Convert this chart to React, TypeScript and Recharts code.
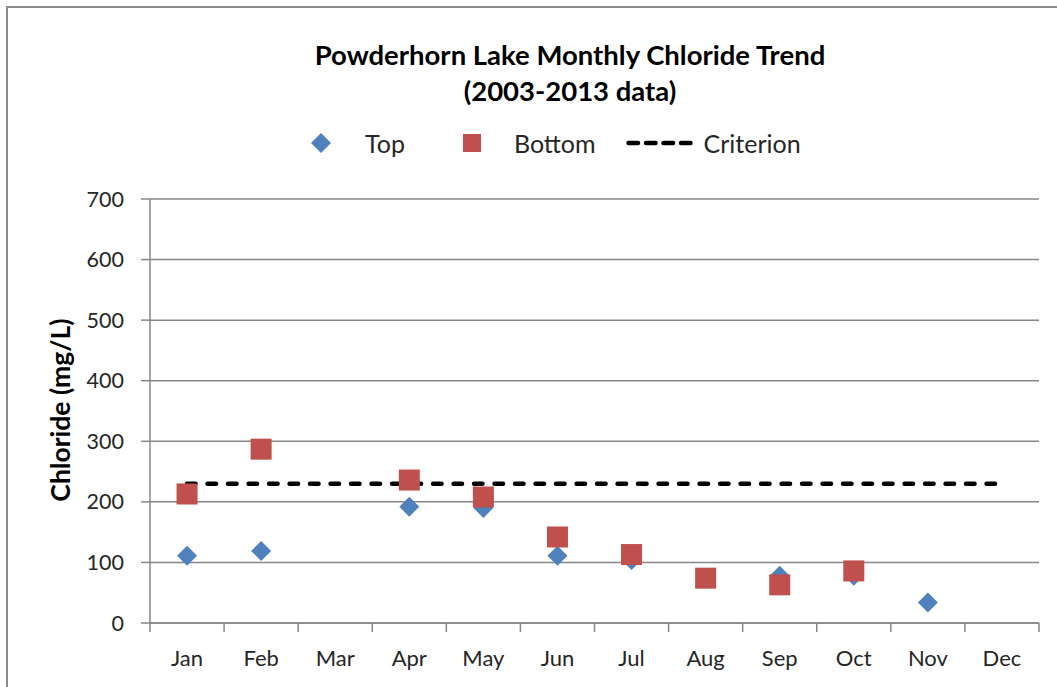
import React from 'react';
import { ComposedChart, Scatter, Line, XAxis, YAxis, CartesianGrid } from 'recharts';

const months = ['Jan', 'Feb', 'Mar', 'Apr', 'May', 'Jun', 'Jul', 'Aug', 'Sep', 'Oct', 'Nov', 'Dec'];
const topValues = [111, 119, null, 192, 190, 111, 104, null, 78, 78, 34, null];
const bottomValues = [213, 287, null, 236, 208, 142, 113, 74, 63, 86, null, null];
const criterionValues = [230, 230, 230, 230, 230, 230, 230, 230, 230, 230, 230, 230];
const yTicks = [0, 100, 200, 300, 400, 500, 600, 700];

const BLUE = '#4F81BD';
const RED = '#C0504D';
const GRID = '#878787';
const FONT = 'Lato, "Open Sans", sans-serif';

const data = months.map((m, i) => ({
  month: m,
  top: topValues[i],
  bottom: bottomValues[i],
  criterion: criterionValues[i],
}));

const DiamondShape = (props: any) => {
  const { cx, cy } = props;
  if (cx == null || cy == null || isNaN(cy)) return null;
  const r = 10;
  return <path d={`M${cx},${cy - r}L${cx + r},${cy}L${cx},${cy + r}L${cx - r},${cy}Z`} fill={BLUE} />;
};

const SquareShape = (props: any) => {
  const { cx, cy } = props;
  if (cx == null || cy == null || isNaN(cy)) return null;
  const h = 10.5;
  return <rect x={cx - h} y={cy - h} width={h * 2} height={h * 2} fill={RED} />;
};

// Excel style: tick marks sit between categories, labels in the middle
const MonthTick = (props: any) => {
  const { x, y, payload, index, visibleTicksCount } = props;
  const half = payload && payload.offset ? payload.offset : 37;
  const last = index === (visibleTicksCount || 12) - 1;
  return (
    <g>
      <line x1={x - half} x2={x - half} y1={y - 9} y2={y} stroke={GRID} strokeWidth={1.5} />
      {last && <line x1={x + half} x2={x + half} y1={y - 9} y2={y} stroke={GRID} strokeWidth={1.5} />}
      <text x={x} y={y + 34} textAnchor="middle" fill="#262626" fontSize={22} fontFamily={FONT}>
        {payload.value}
      </text>
    </g>
  );
};

const legendText: React.CSSProperties = { fontSize: 25, color: '#262626', fontFamily: FONT, lineHeight: '28px' };

export default function App() {
  return (
    <div style={{ position: 'absolute', left: 0, top: 0, width: 1057, height: 687, background: '#fff', overflow: 'hidden' }}>
      <div
        style={{
          position: 'absolute',
          left: 6,
          top: 6,
          width: 1100,
          height: 720,
          borderTop: '2px solid #8c8c8c',
          borderLeft: '2px solid #8c8c8c',
        }}
      />
      <div
        style={{
          position: 'absolute',
          left: 270,
          width: 600,
          top: 37,
          textAlign: 'center',
          fontFamily: FONT,
          fontWeight: 700,
          fontSize: 27.5,
          lineHeight: '36px',
          color: '#000',
        }}
      >
        <div>Powderhorn Lake Monthly Chloride Trend</div>
        <div>(2003-2013 data)</div>
      </div>

      <div style={{ position: 'absolute', left: 311, top: 129, height: 28, display: 'flex', alignItems: 'center' }}>
        <svg width={20} height={20}>
          <path d="M10,0L20,10L10,20L0,10Z" fill={BLUE} />
        </svg>
        <span style={{ ...legendText, marginLeft: 34 }}>Top</span>
        <svg width={18} height={18} style={{ marginLeft: 58 }}>
          <rect x={0} y={0} width={18} height={18} fill={RED} />
        </svg>
        <span style={{ ...legendText, marginLeft: 33 }}>Bottom</span>
        <svg width={72} height={10} style={{ marginLeft: 30 }}>
          <line x1={2.5} x2={70} y1={5} y2={5} stroke="#000" strokeWidth={4.5} strokeDasharray="9.5 8" strokeLinecap="round" />
        </svg>
        <span style={{ ...legendText, marginLeft: 6 }}>Criterion</span>
      </div>

      <div
        style={{
          position: 'absolute',
          left: 60,
          top: 410,
          transform: 'translate(-50%, -50%) rotate(-90deg)',
          whiteSpace: 'nowrap',
          fontFamily: FONT,
          fontWeight: 700,
          fontSize: 26.5,
          color: '#000',
        }}
      >
        Chloride (mg/L)
      </div>

      <div style={{ position: 'absolute', left: 0, top: 0 }}>
        <ComposedChart width={1057} height={687} data={data} margin={{ top: 199, right: 18, left: 80, bottom: 24 }}>
          <CartesianGrid horizontal vertical={false} stroke={GRID} strokeWidth={1.5} />
          <XAxis
            dataKey="month"
            scale="band"
            height={40}
            tickSize={9}
            tickMargin={0}
            tickLine={false}
            axisLine={{ stroke: GRID, strokeWidth: 1.5 }}
            tick={<MonthTick />}
            interval={0}
          />
          <YAxis
            width={70}
            domain={[0, 700]}
            ticks={yTicks}
            interval={0}
            tickSize={9}
            tickMargin={17}
            axisLine={{ stroke: GRID, strokeWidth: 1.5 }}
            tickLine={{ stroke: GRID, strokeWidth: 1.5 }}
            tick={{ fill: '#262626', fontSize: 21.5, fontFamily: FONT }}
          />
          <Line
            dataKey="criterion"
            stroke="#000"
            strokeWidth={4.5}
            strokeDasharray="8.5 12"
            strokeLinecap="round"
            dot={false}
            activeDot={false}
            isAnimationActive={false}
          />
          <Scatter dataKey="top" shape={<DiamondShape />} isAnimationActive={false} />
          <Scatter dataKey="bottom" shape={<SquareShape />} isAnimationActive={false} />
        </ComposedChart>
      </div>
    </div>
  );
}
